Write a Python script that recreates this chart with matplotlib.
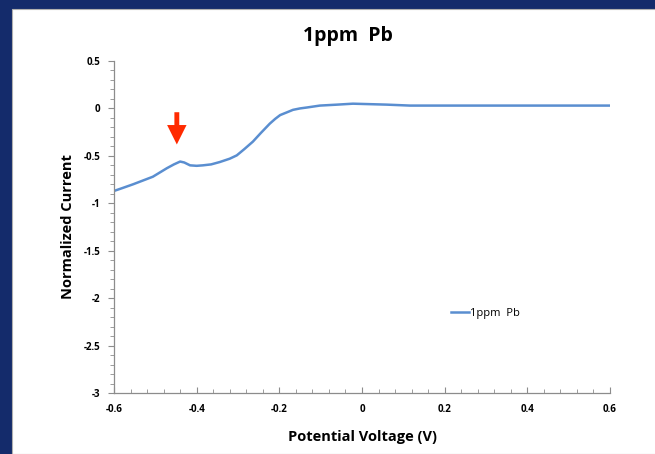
import matplotlib.pyplot as plt
import matplotlib.patches as patches
from matplotlib.ticker import MultipleLocator, FuncFormatter

NAVY = "#142B6B"
BLUE = "#5A8ED0"
RED = "#FF2A00"

plt.rcParams.update({"font.family": ["Open Sans", "DejaVu Sans"]})

# potential (V) and normalized current
voltage = [-0.60, -0.58, -0.554, -0.53, -0.506, -0.472, -0.455, -0.44, -0.43,
           -0.416, -0.40, -0.385, -0.365, -0.344, -0.32, -0.303, -0.285,
           -0.264, -0.245, -0.223, -0.21, -0.198, -0.181, -0.167, -0.15,
           -0.133, -0.102, -0.06, -0.022, 0.019, 0.06, 0.116, 0.2, 0.3,
           0.4, 0.5, 0.6]
current = [-0.87, -0.84, -0.80, -0.76, -0.72, -0.63, -0.59, -0.56, -0.57,
           -0.60, -0.605, -0.60, -0.59, -0.565, -0.53, -0.495, -0.43,
           -0.35, -0.26, -0.16, -0.11, -0.07, -0.04, -0.015, 0.0,
           0.01, 0.03, 0.04, 0.05, 0.045, 0.04, 0.03, 0.03, 0.03,
           0.03, 0.03, 0.03]
x_ticks = [-0.6, -0.4, -0.2, 0, 0.2, 0.4, 0.6]
y_ticks = [-3, -2.5, -2, -1.5, -1, -0.5, 0, 0.5]

fig = plt.figure(figsize=(6.55, 4.54), dpi=100, facecolor=NAVY)
# white slide panel with thin gray edge
fig.patches.append(patches.Rectangle((12 / 655, 0), 1, 1 - 9 / 454,
                                     transform=fig.transFigure,
                                     facecolor="white", edgecolor="#B0B0B0",
                                     linewidth=0.8, zorder=-10))

ax = fig.add_axes([114 / 655, 61 / 454, 496 / 655, 332 / 454])
ax.set_facecolor("white")
ax.plot(voltage, current, color=BLUE, linewidth=1.8, label="1ppm  Pb")

ax.set_xticks(x_ticks)
ax.set_yticks(y_ticks)
ax.set_xlim(-0.6, 0.6)
ax.set_ylim(-3, 0.5)
ax.xaxis.set_minor_locator(MultipleLocator(0.04))
ax.yaxis.set_minor_locator(MultipleLocator(0.1))
fmt = FuncFormatter(lambda v, p: f"{v:g}".replace("\u2212", "-"))
ax.xaxis.set_major_formatter(fmt)
ax.yaxis.set_major_formatter(fmt)

for s in ["top", "right"]:
    ax.spines[s].set_visible(False)
for s in ["left", "bottom"]:
    ax.spines[s].set_color("#8C8C8C")
    ax.spines[s].set_linewidth(0.9)

ax.tick_params(axis="x", which="both", direction="in", color="#8C8C8C", pad=8)
ax.tick_params(axis="y", which="both", direction="out", color="#8C8C8C", pad=6)
ax.tick_params(which="major", length=4, labelsize=7)
ax.tick_params(which="minor", length=3)
for lab in ax.get_xticklabels() + ax.get_yticklabels():
    lab.set_fontweight("bold")

ax.set_xlabel("Potential Voltage (V)", fontsize=10.5, fontweight="bold", labelpad=11)
ax.set_ylabel("Normalized Current", fontsize=10.5, fontweight="bold", labelpad=6)

fig.text(348 / 655, 1 - 36 / 454, "1ppm  Pb", ha="center", va="center",
         fontsize=14, fontweight="bold")

ax.legend(loc="center left", bbox_to_anchor=(0.66, 0.24), frameon=False,
          fontsize=8, handlelength=1.6, handletextpad=0.1)

# red arrow marking the peak
ax.annotate("", xy=(-0.448, -0.38), xytext=(-0.448, -0.04),
            arrowprops=dict(arrowstyle="simple,head_width=1.0,head_length=1.0,tail_width=0.25",
                            mutation_scale=14, color=RED, linewidth=0,
                            shrinkA=0, shrinkB=0))

fig.savefig("out.png", dpi=100, facecolor=NAVY)
